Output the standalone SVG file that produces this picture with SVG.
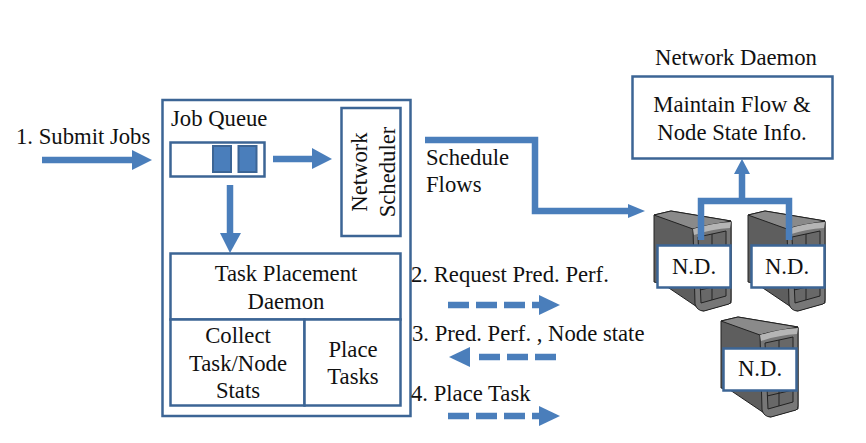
<svg xmlns="http://www.w3.org/2000/svg" xmlns:xlink="http://www.w3.org/1999/xlink" width="866" height="443" viewBox="0 0 866 443">
<style>
text{font-family:"Liberation Serif","Times New Roman",serif;font-size:22.7px;fill:#111}
.m{text-anchor:middle}
.box{fill:#fff;stroke:#3c6595;stroke-width:2.5}
.conn{fill:none;stroke:#4a7ebb;stroke-width:6.5}
.dash{fill:none;stroke:#4a7ebb;stroke-width:6.5;stroke-dasharray:21 7}
.head{fill:#4a7ebb}
.job{fill:#4a7ebb;stroke:#3c6595;stroke-width:2}
</style>
<defs>
<g id="server">
<path d="M0 5 L17 1 L77 11 L77 93 L49 101 L9 74 L0 72 Z" fill="#5e5e5e" stroke="#222" stroke-width="1"/>
<path d="M0 5 L17 1 L77 11 L39 19 Z" fill="#8a8a8a" stroke="#222" stroke-width="1"/>
<path d="M39 19 L41 94 Q43 101 50 101 L75 94 Q77 93 77 90 L77 12 Q55 14 39 19 Z" fill="#777" stroke="#222" stroke-width="1"/>
<path d="M39 19 Q58 13 77 12 L76 18 Q58 19 40 25 Z" fill="#b5b5b5"/>
<path d="M44 27 L72 21 L72 86 L47 93 Z" fill="#686868" stroke="#222" stroke-width="1"/>
<path d="M58 24 V90 M46 80 L72 74" fill="none" stroke="#222" stroke-width="1"/>
</g>
</defs>
<g id="servers-back">
<use xlink:href="#server" href="#server" x="654" y="210"/>
<use xlink:href="#server" href="#server" x="748" y="210"/>
</g>
<g id="scheduler-frame"><rect class="box" x="162.500" y="100" width="248" height="316"/><text x="171" y="126">Job Queue</text></g>
<g id="job-queue"><rect class="box" x="170.500" y="142.500" width="94" height="34"/><rect class="job" x="213" y="146" width="18" height="26"/><rect class="job" x="238.500" y="146" width="18" height="26"/></g>
<g id="network-scheduler"><rect class="box" x="341.500" y="108" width="59" height="128"/><text class="m" transform="translate(367 172) rotate(-90)">Network</text><text class="m" transform="translate(395 172) rotate(-90)">Scheduler</text></g>
<g id="task-placement"><rect class="box" x="170.500" y="253.500" width="230" height="66"/><text class="m" x="286" y="281">Task Placement</text><text class="m" x="286" y="309">Daemon</text></g>
<g id="collect-stats"><rect class="box" x="170.500" y="319.500" width="134" height="86"/><text class="m" x="238" y="343">Collect</text><text class="m" x="238" y="371">Task/Node</text><text class="m" x="238" y="398">Stats</text></g>
<g id="place-tasks"><rect class="box" x="304.500" y="319.500" width="96" height="86"/><text class="m" x="353" y="357">Place</text><text class="m" x="353" y="384">Tasks</text></g>
<g id="network-daemon"><text class="m" x="736" y="65">Network Daemon</text><rect class="box" x="632.500" y="76.500" width="200" height="82"/><text class="m" x="732" y="112">Maintain Flow &amp;</text><text class="m" x="732" y="140">Node State Info.</text></g>
<g id="connectors">
<path class="conn" d="M42 160 H134"/><path class="head" d="M132 150 L152 160 L132 170 Z"/>
<path class="conn" d="M273 159 H312"/><path class="head" d="M312 148 L332 159 L312 169 Z"/>
<path class="conn" d="M230 185 V233"/><path class="head" d="M220 233 L241 233 L230 253 Z"/>
<path class="conn" d="M425 140 H535 V211 H628"/><path class="head" d="M628 204 L645 211 L628 218 Z"/>
<path class="conn" d="M701 240 V201 H789 V240 M742 201 V172"/><path class="head" d="M734 174 L742 159 L750 174 Z"/>
<path class="dash" d="M448 305 H539"/><path class="head" d="M539 295 L560 305 L539 315 Z"/>
<path class="dash" d="M556 357 H472"/><path class="head" d="M470 347 L449 357 L470 367 Z"/>
<path class="dash" d="M448 416 H539"/><path class="head" d="M539 406 L560 416 L539 426 Z"/>
</g>
<g id="server-1"><rect class="box" x="657.500" y="245.500" width="73" height="42"/><text class="m" x="694" y="274">N.D.</text></g>
<g id="server-2"><rect class="box" x="751.500" y="245.500" width="73" height="42"/><text class="m" x="787" y="274">N.D.</text></g>
<g id="server-3"><use xlink:href="#server" href="#server" x="721" y="316"/><rect class="box" x="723.500" y="348.500" width="73" height="42"/><text class="m" x="760" y="376">N.D.</text></g>
<g id="labels">
<text x="16" y="144">1. Submit Jobs</text>
<text x="426" y="165">Schedule</text><text x="426" y="192">Flows</text>
<text x="411" y="282">2. Request Pred. Perf.</text>
<text x="412" y="341">3. Pred. Perf. , Node state</text>
<text x="411" y="401">4. Place Task</text>
</g>
</svg>
